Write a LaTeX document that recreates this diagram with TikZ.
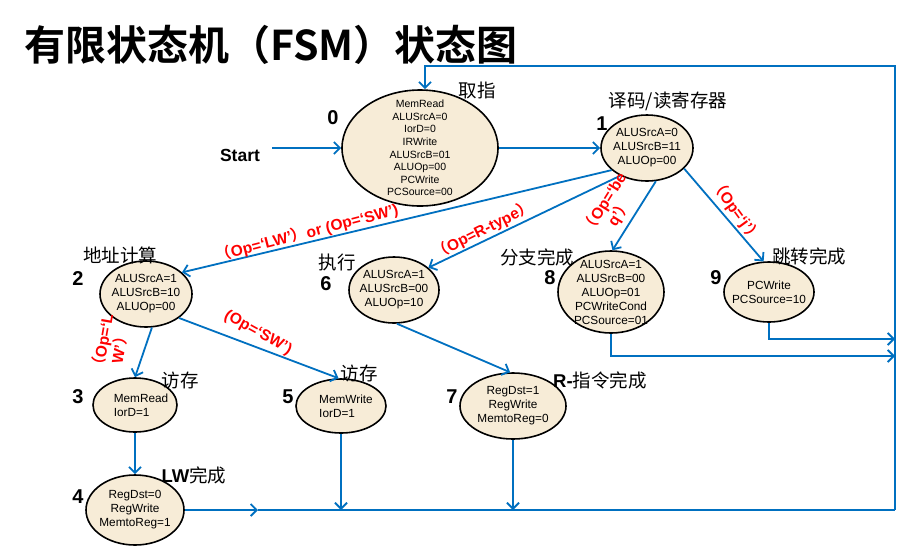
\documentclass[tikz,border=0pt]{standalone}
\usepackage{fontspec}
\setmainfont{Liberation Sans}
\newfontfamily\cjk{Noto Sans CJK SC}[BoldFont={Noto Sans CJK SC Bold}]
\usetikzlibrary{shapes.geometric,arrows.meta}
\definecolor{lineblue}{RGB}{0,112,192}
\definecolor{parch}{RGB}{247,236,215}
\definecolor{lblred}{RGB}{255,0,0}
\newcommand{\lpar}{{\cjk （}}
\newcommand{\rpar}{{\cjk ）}}
\begin{document}
\begin{tikzpicture}[x=1pt,y=1pt,
  st/.style={ellipse, draw=black, line width=1.6pt, fill=parch, inner sep=0pt},
  txt/.style={align=center, font=\fontsize{11.8}{14}\selectfont, inner sep=0pt},
  num/.style={font=\fontsize{20}{22}\selectfont\bfseries, inner sep=0pt},
  cn/.style={font=\cjk\fontsize{18.5}{20}\selectfont, inner sep=0pt},
  arr/.style={draw=lineblue, line width=1.8pt, -{Straight Barb[length=6pt,width=12pt]}},
  ln/.style={draw=lineblue, line width=1.8pt},
  cond/.style={text=lblred, font=\fontsize{15.5}{15.5}\selectfont\bfseries, align=center, inner sep=0pt}
]
\useasboundingbox (0,0) rectangle (907,-547);
\fill[white] (0,0) rectangle (907,-547);

% title
\node[font=\cjk\bfseries\fontsize{41}{44}\selectfont, anchor=west, inner sep=0pt] (title) at (24,-45) {有限状态机（FSM）状态图};

% states
\node[st, minimum width=156, minimum height=116] (s0) at (420,-148) {};
\node[st, minimum width=92, minimum height=66] (s1) at (647,-148) {};
\node[st, minimum width=92, minimum height=66] (s2) at (146,-294) {};
\node[st, minimum width=90, minimum height=66] (s6) at (394,-290) {};
\node[st, minimum width=106, minimum height=82] (s8) at (611,-292) {};
\node[st, minimum width=90, minimum height=60] (s9) at (769,-292) {};
\node[st, minimum width=84, minimum height=54] (s3) at (135,-405) {};
\node[st, minimum width=90, minimum height=54] (s5) at (341,-406) {};
\node[st, minimum width=98, minimum height=70] (s4) at (135,-510) {};
\node[st, minimum width=106, minimum height=66] (s7) at (513,-406) {};

% state texts
\node[txt, font=\fontsize{10.5}{12.6}\selectfont] (t0) at (s0) {MemRead\\ALUSrcA=0\\IorD=0\\IRWrite\\ALUSrcB=01\\ALUOp=00\\PCWrite\\PCSource=00};
\node[txt] (t1) at (s1) {ALUSrcA=0\\ALUSrcB=11\\ALUOp=00};
\node[txt] (t2) at (s2) {ALUSrcA=1\\ALUSrcB=10\\ALUOp=00};
\node[txt] (t6) at (s6) {ALUSrcA=1\\ALUSrcB=00\\ALUOp=10};
\node[txt] (t8) at (s8) {ALUSrcA=1\\ALUSrcB=00\\ALUOp=01\\PCWriteCond\\PCSource=01};
\node[txt] (t9) at (s9) {PCWrite\\PCSource=10};
\node[txt, align=left] (t3) at ([xshift=6]s3.center) {MemRead\\IorD=1};
\node[txt, align=left] (t5) at ([xshift=5]s5.center) {MemWrite\\IorD=1};
\node[txt] (t4) at (s4) {RegDst=0\\RegWrite\\MemtoReg=1};
\node[txt] (t7) at (s7) {RegDst=1\\RegWrite\\MemtoReg=0};

% numbers
\node[num] (n0) at (333,-118) {0};
\node[num] (n1) at (602,-124) {1};
\node[num] (n2) at (78,-279) {2};
\node[num] (n6) at (326,-284) {6};
\node[num] (n8) at (550,-278) {8};
\node[num] (n9) at (716,-278) {9};
\node[num] (n3) at (78,-397) {3};
\node[num] (n5) at (288,-397) {5};
\node[num] (n4) at (78,-497) {4};
\node[num] (n7) at (452,-397) {7};

% chinese state titles
\node[cn] (c0) at (477,-90) {取指};
\node[cn] (c1) at (668,-101) {译码/读寄存器};
\node[cn] (c2) at (120,-255) {地址计算};
\node[cn] (c6) at (337,-262) {执行};
\node[cn] (c8) at (537,-257) {分支完成};
\node[cn] (c9) at (809,-256) {跳转完成};
\node[cn] (c3) at (180,-380) {访存};
\node[cn] (c5) at (359,-373) {访存};
\node[cn] (c4) at (194,-475) {{\rmfamily\bfseries LW}完成};
\node[cn] (c7) at (600,-380) {{\rmfamily\bfseries R-}指令完成};

% start
\node[font=\fontsize{17.5}{19}\selectfont\bfseries, inner sep=0pt] (start) at (240,-155) {Start};
\coordinate (st) at ([xshift=12]start.east);
\draw[arr] (st |- s0.west) -- (s0.west);

% transitions
\draw[arr] (s0.east) -- (s1.west);
\draw[arr] (s1.212) -- (s2.31);
\draw[arr] (s1.226) -- (s6.33);
\draw[arr] (s1.285) -- (s8.88);
\draw[arr] (s1.-29) -- (s9.100);
\draw[arr] (s2.280) -- (s3.90);
\draw[arr] (s2.-36) -- (s5.95);
\draw[arr] (s3.south) -- (s4.north);
\draw[arr] (s6.-85) -- (s7.95);

% return paths
\coordinate (br) at (895,-510);
\coordinate (tr) at (895,-66);
\coordinate (tl) at (425,-66);
\coordinate (b4) at (258,-510);
\coordinate (r9) at (895,-339);
\coordinate (r8) at (895,-356);
\draw[arr] (s4.east) -- (b4);
\draw[ln] (b4) -- (br);
\draw[arr] (s5.south) -- (s5.south |- br);
\draw[arr] (s7.south) -- (s7.south |- br);
\draw[arr] (br) -- (tr) -- (tl) -- (tl |- s0.north);
\draw[arr] (s9.south) |- (r9);
\draw[arr] (s8.south) |- (r8);

% condition labels
\node[cond, rotate=14.5] (l12) at (307,-233) {\lpar Op=‘LW’\rpar or (Op=‘SW’)};
\node[cond, rotate=26.5] (l16) at (483,-230) {\lpar Op=R-type\rpar};
\node[cond, rotate=58] (l18) at (612,-208) {\lpar Op=‘be\\q’\rpar};
\node[cond, rotate=-54] (l19) at (736,-211) {\lpar Op=‘j’\rpar};
\node[cond, rotate=80] (l23) at (111,-345) {\lpar Op=‘L\\W’\rpar};
\node[cond, rotate=-29] (l25) at (258,-333) {(Op=‘SW’)};
\end{tikzpicture}
\end{document}
